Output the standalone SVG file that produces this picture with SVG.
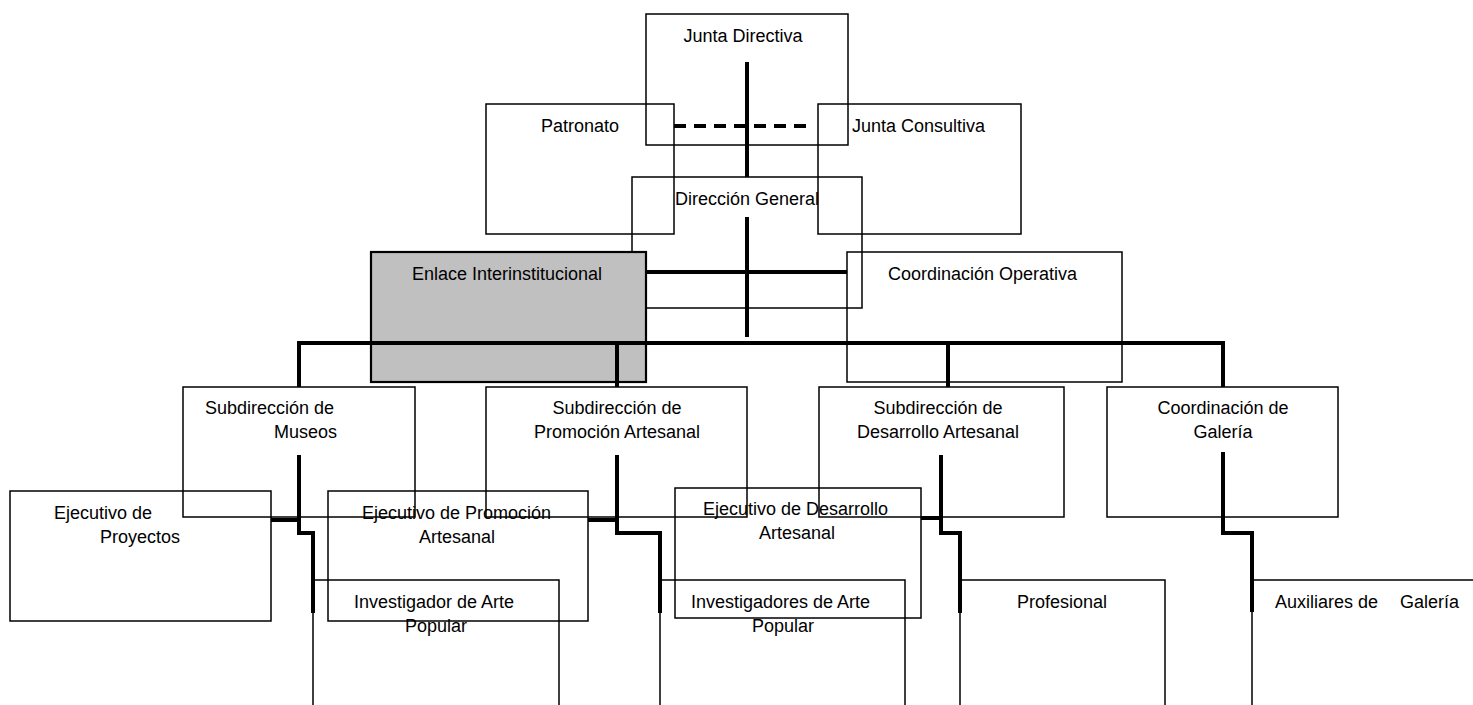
<svg xmlns="http://www.w3.org/2000/svg" width="1473" height="705" viewBox="0 0 1473 705">
<style>
.box{fill:none;stroke:#000;stroke-width:1.5}
.gray{fill:#c0c0c0;stroke:#000;stroke-width:2.2}
.t{font-family:"Liberation Sans",Arial,sans-serif;font-size:18px;fill:#000}
.c{text-anchor:middle}
.thick{fill:none;stroke:#000;stroke-width:4;stroke-linejoin:miter}
.dash{fill:none;stroke:#000;stroke-width:4;stroke-dasharray:12 8}
</style>
<rect width="1473" height="705" fill="#fff"/>
<g id="n-junta-directiva"><rect class="box" x="646" y="14" width="202" height="131"/><text class="t c" x="743" y="42">Junta Directiva</text></g>
<g id="n-patronato"><rect class="box" x="486" y="104" width="188" height="130"/><text class="t" x="541" y="132">Patronato</text></g>
<g id="n-junta-consultiva"><rect class="box" x="818" y="104" width="203" height="130"/><text class="t" x="852" y="132">Junta Consultiva</text></g>
<g id="n-direccion-general"><rect class="box" x="632" y="177" width="230" height="131"/><text class="t" x="675" y="205">Dirección General</text></g>
<g id="n-enlace"><rect class="gray" x="371" y="252" width="275" height="130"/><text class="t" x="412" y="280">Enlace Interinstitucional</text></g>
<g id="n-coord-operativa"><rect class="box" x="847" y="252" width="275" height="130"/><text class="t" x="888" y="280">Coordinación Operativa</text></g>
<g id="n-sub-museos"><rect class="box" x="183" y="387" width="232" height="130"/><text class="t" x="205" y="414">Subdirección de</text><text class="t" x="274" y="438">Museos</text></g>
<g id="n-sub-promocion"><rect class="box" x="486" y="387" width="261" height="130"/><text class="t c" x="617" y="414">Subdirección de</text><text class="t c" x="617" y="438">Promoción Artesanal</text></g>
<g id="n-sub-desarrollo"><rect class="box" x="819" y="387" width="245" height="130"/><text class="t c" x="938" y="414">Subdirección de</text><text class="t c" x="938" y="438">Desarrollo Artesanal</text></g>
<g id="n-coord-galeria"><rect class="box" x="1107" y="387" width="231" height="130"/><text class="t c" x="1223" y="414">Coordinación de</text><text class="t c" x="1223" y="438">Galería</text></g>
<g id="n-ejec-proyectos"><rect class="box" x="10" y="491" width="261" height="130"/><text class="t" x="54" y="519">Ejecutivo de</text><text class="t" x="100" y="543">Proyectos</text></g>
<g id="n-ejec-promocion"><rect class="box" x="328" y="491" width="260" height="130"/><text class="t" x="362" y="519">Ejecutivo de Promoción</text><text class="t" x="419" y="543">Artesanal</text></g>
<g id="n-ejec-desarrollo"><rect class="box" x="675" y="488" width="246" height="130"/><text class="t" x="703" y="515">Ejecutivo de Desarrollo</text><text class="t" x="759" y="539">Artesanal</text></g>
<g id="n-investigador"><rect class="box" x="313" y="580" width="246" height="140"/><text class="t" x="354" y="608">Investigador de Arte</text><text class="t" x="405" y="632">Popular</text></g>
<g id="n-investigadores"><rect class="box" x="660" y="580" width="245" height="140"/><text class="t" x="691" y="608">Investigadores de Arte</text><text class="t" x="752" y="632">Popular</text></g>
<g id="n-profesional"><rect class="box" x="960" y="580" width="205" height="140"/><text class="t" x="1017" y="608">Profesional</text></g>
<g id="n-auxiliares"><rect class="box" x="1252" y="580" width="260" height="140"/><text class="t" x="1275" y="608">Auxiliares de</text><text class="t" x="1400" y="608">Galería</text></g>
<g id="connectors">
<line class="dash" x1="674" y1="126" x2="813" y2="126"/>
<line class="thick" x1="747" y1="62" x2="747" y2="177"/>
<line class="thick" x1="747" y1="217" x2="747" y2="337"/>
<line class="thick" x1="646" y1="272" x2="847" y2="272"/>
<polyline class="thick" points="299,387 299,343 1223,343 1223,387"/>
<line class="thick" x1="617" y1="343" x2="617" y2="387"/>
<line class="thick" x1="948" y1="343" x2="948" y2="387"/>
<polyline class="thick" points="299,455 299,533 313,533 313,613"/>
<line class="thick" x1="271" y1="520" x2="299" y2="520"/>
<polyline class="thick" points="617,455 617,533 660,533 660,613"/>
<line class="thick" x1="588" y1="520" x2="617" y2="520"/>
<polyline class="thick" points="941,455 941,533 960,533 960,613"/>
<line class="thick" x1="921" y1="518" x2="941" y2="518"/>
<polyline class="thick" points="1223,452 1223,533 1252,533 1252,612"/>
</g>
</svg>
